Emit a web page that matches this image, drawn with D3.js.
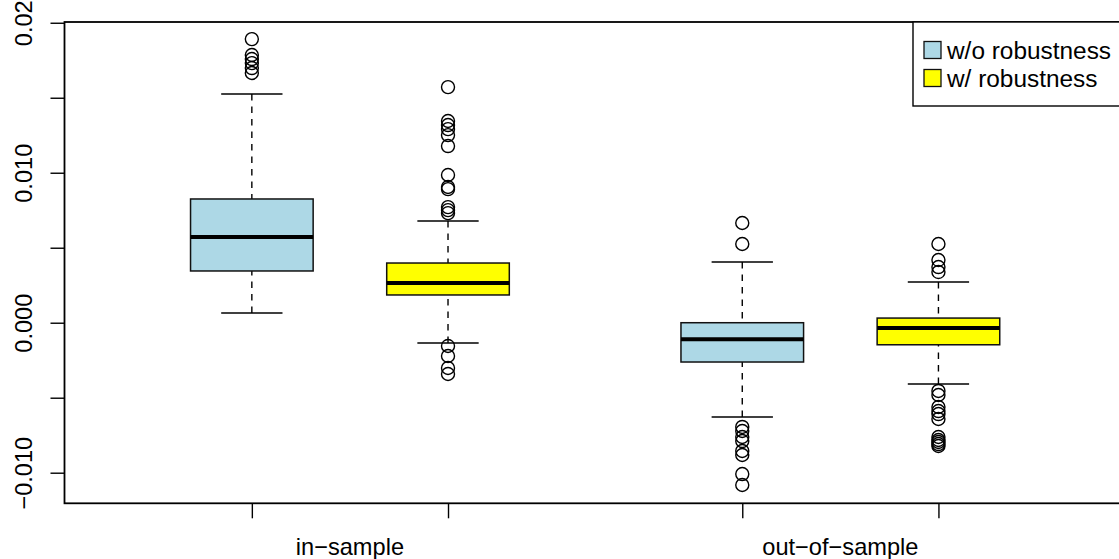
<!DOCTYPE html>
<html>
<head>
<meta charset="utf-8">
<script src="https://cdn.jsdelivr.net/npm/d3@7"></script>
<style>
  body { margin: 0; background: #fff; }
  svg { display: block; font-family: "Liberation Sans", Arial, Helvetica, sans-serif; }
</style>
</head>
<body>
<svg id="chart" width="1119" height="559"></svg>
<script>
// data
const groups = ['in\u2212sample', 'out\u2212of\u2212sample'];
const seriesNames = ['w/o robustness', 'w/ robustness'];

// one entry per box: in-sample w/o, in-sample w/, out-of-sample w/o, out-of-sample w/
const boxSeries = [0, 1, 0, 1];
const whiskerLow = [0.00065, -0.00135, -0.00629, -0.00409];
const lowerQuartile = [0.00345, 0.00185, -0.00262, -0.00147];
const medians = [0.00571, 0.00265, -0.00111, -0.00035];
const upperQuartile = [0.00825, 0.00398, 0.0, 0.00031];
const whiskerHigh = [0.01525, 0.00678, 0.00405, 0.00271];
const outliers = [
  [0.01891, 0.01785, 0.01758, 0.01731, 0.01698, 0.01665],
  [0.01571, 0.01345, 0.01318, 0.01291, 0.01251, 0.01178, 0.00985, 0.00905, 0.00891,
   0.00771, 0.00751, 0.00731, -0.00155, -0.00222, -0.00302, -0.00342],
  [0.00665, 0.00525, -0.00695, -0.00722, -0.00762, -0.00789, -0.00855, -0.00882,
   -0.01009, -0.01082],
  [0.00525, 0.00418, 0.00371, 0.00338, -0.00455, -0.00482, -0.00562, -0.00589,
   -0.00609, -0.00642, -0.00762, -0.00782, -0.00795, -0.00809, -0.00822]
];

const yTickValues = [-0.01, -0.005, 0, 0.005, 0.01, 0.015, 0.02];
const yTickLabels = ['\u22120.010', '', '0.000', '', '0.010', '', '0.02'];

// layout (like R boxplot with at = c(1, 2, 3.5, 4.5))
const boxPositions = [1, 2, 3.5, 4.5];
const groupPositions = [1.5, 4];
const boxWidth = 0.625;
const colors = ['#ADD8E6', '#FFFF00'];
const fontSize = 23.6;
const legendFontSize = 24.4;

const svg = d3.select('#chart');

const frame = { left: 64.5, right: 1124.8, top: 22, bottom: 503.3 };

const x = d3.scaleLinear()
  .domain([0.045, 5.45])
  .range([frame.left, frame.right]);

const y = d3.scaleLinear()
  .domain([-0.01204, 0.02005])
  .range([frame.bottom, frame.top]);

// boxes
const g = svg.append('g');

boxPositions.forEach((pos, i) => {
  const cx = x(pos);
  const half = (x(pos + boxWidth / 2) - x(pos - boxWidth / 2)) / 2;

  // whiskers (dashed), drawn from the whisker end toward the box
  [[whiskerLow[i], lowerQuartile[i]], [whiskerHigh[i], upperQuartile[i]]].forEach(([a, b]) => {
    g.append('line')
      .attr('x1', cx).attr('x2', cx)
      .attr('y1', y(a)).attr('y2', y(b))
      .attr('stroke', '#000')
      .attr('stroke-width', 1.4)
      .attr('stroke-dasharray', '6.5,6');
  });

  // staples
  [whiskerLow[i], whiskerHigh[i]].forEach(v => {
    g.append('line')
      .attr('x1', cx - half / 2).attr('x2', cx + half / 2)
      .attr('y1', y(v)).attr('y2', y(v))
      .attr('stroke', '#000')
      .attr('stroke-width', 1.4);
  });

  g.append('rect')
    .attr('x', cx - half)
    .attr('y', y(upperQuartile[i]))
    .attr('width', half * 2)
    .attr('height', y(lowerQuartile[i]) - y(upperQuartile[i]))
    .attr('fill', colors[boxSeries[i]])
    .attr('stroke', '#111')
    .attr('stroke-width', 1.5);

  g.append('line')
    .attr('x1', cx - half).attr('x2', cx + half)
    .attr('y1', y(medians[i])).attr('y2', y(medians[i]))
    .attr('stroke', '#000')
    .attr('stroke-width', 4);

  outliers[i].forEach(v => {
    g.append('circle')
      .attr('cx', cx)
      .attr('cy', y(v))
      .attr('r', 6.5)
      .attr('fill', 'none')
      .attr('stroke', '#000')
      .attr('stroke-width', 1.4);
  });
});

// axes
const yAxis = svg.append('g')
  .attr('transform', `translate(${frame.left},0)`)
  .call(d3.axisLeft(y)
    .tickValues(yTickValues)
    .tickSize(14)
    .tickFormat((d, i) => yTickLabels[i]));

yAxis.select('.domain').remove();
yAxis.selectAll('.tick line').attr('stroke', '#000').attr('stroke-width', 1.4);
yAxis.selectAll('.tick text')
  .attr('transform', 'rotate(-90)')
  .attr('x', 0)
  .attr('y', -32.5)
  .attr('dy', 0)
  .attr('text-anchor', 'middle')
  .attr('fill', '#000')
  .style('font-size', fontSize + 'px')
  .style('font-family', '"Liberation Sans", Arial, sans-serif');

const xAxis = svg.append('g')
  .attr('transform', `translate(0,${frame.bottom})`)
  .call(d3.axisBottom(x)
    .tickValues(boxPositions)
    .tickSize(15)
    .tickFormat(''));

xAxis.select('.domain').remove();
xAxis.selectAll('.tick line').attr('stroke', '#000').attr('stroke-width', 1.4);

svg.append('g')
  .selectAll('text')
  .data(groups)
  .join('text')
    .attr('x', (d, i) => x(groupPositions[i]))
    .attr('y', 555)
    .attr('text-anchor', 'middle')
    .style('font-size', fontSize + 'px')
    .text(d => d);

// plot frame
svg.append('rect')
  .attr('x', frame.left)
  .attr('y', frame.top)
  .attr('width', frame.right - frame.left)
  .attr('height', frame.bottom - frame.top)
  .attr('fill', 'none')
  .attr('stroke', '#000')
  .attr('stroke-width', 1.8);

// legend (topright)
const legendRow = 28;
const legend = svg.append('g');
legend.append('rect')
  .attr('x', 913)
  .attr('y', frame.top)
  .attr('width', frame.right - 913)
  .attr('height', legendRow * 3)
  .attr('fill', '#fff')
  .attr('stroke', '#000')
  .attr('stroke-width', 1.4);

seriesNames.forEach((name, i) => {
  const cy = frame.top + legendRow * (i + 1);
  legend.append('rect')
    .attr('x', 924)
    .attr('y', cy - 8.5)
    .attr('width', 17)
    .attr('height', 17)
    .attr('fill', colors[i])
    .attr('stroke', '#111')
    .attr('stroke-width', 1.3);
  legend.append('text')
    .attr('x', 947)
    .attr('y', cy)
    .attr('dy', '0.36em')
    .style('font-size', legendFontSize + 'px')
    .text(name);
});
</script>
</body>
</html>
